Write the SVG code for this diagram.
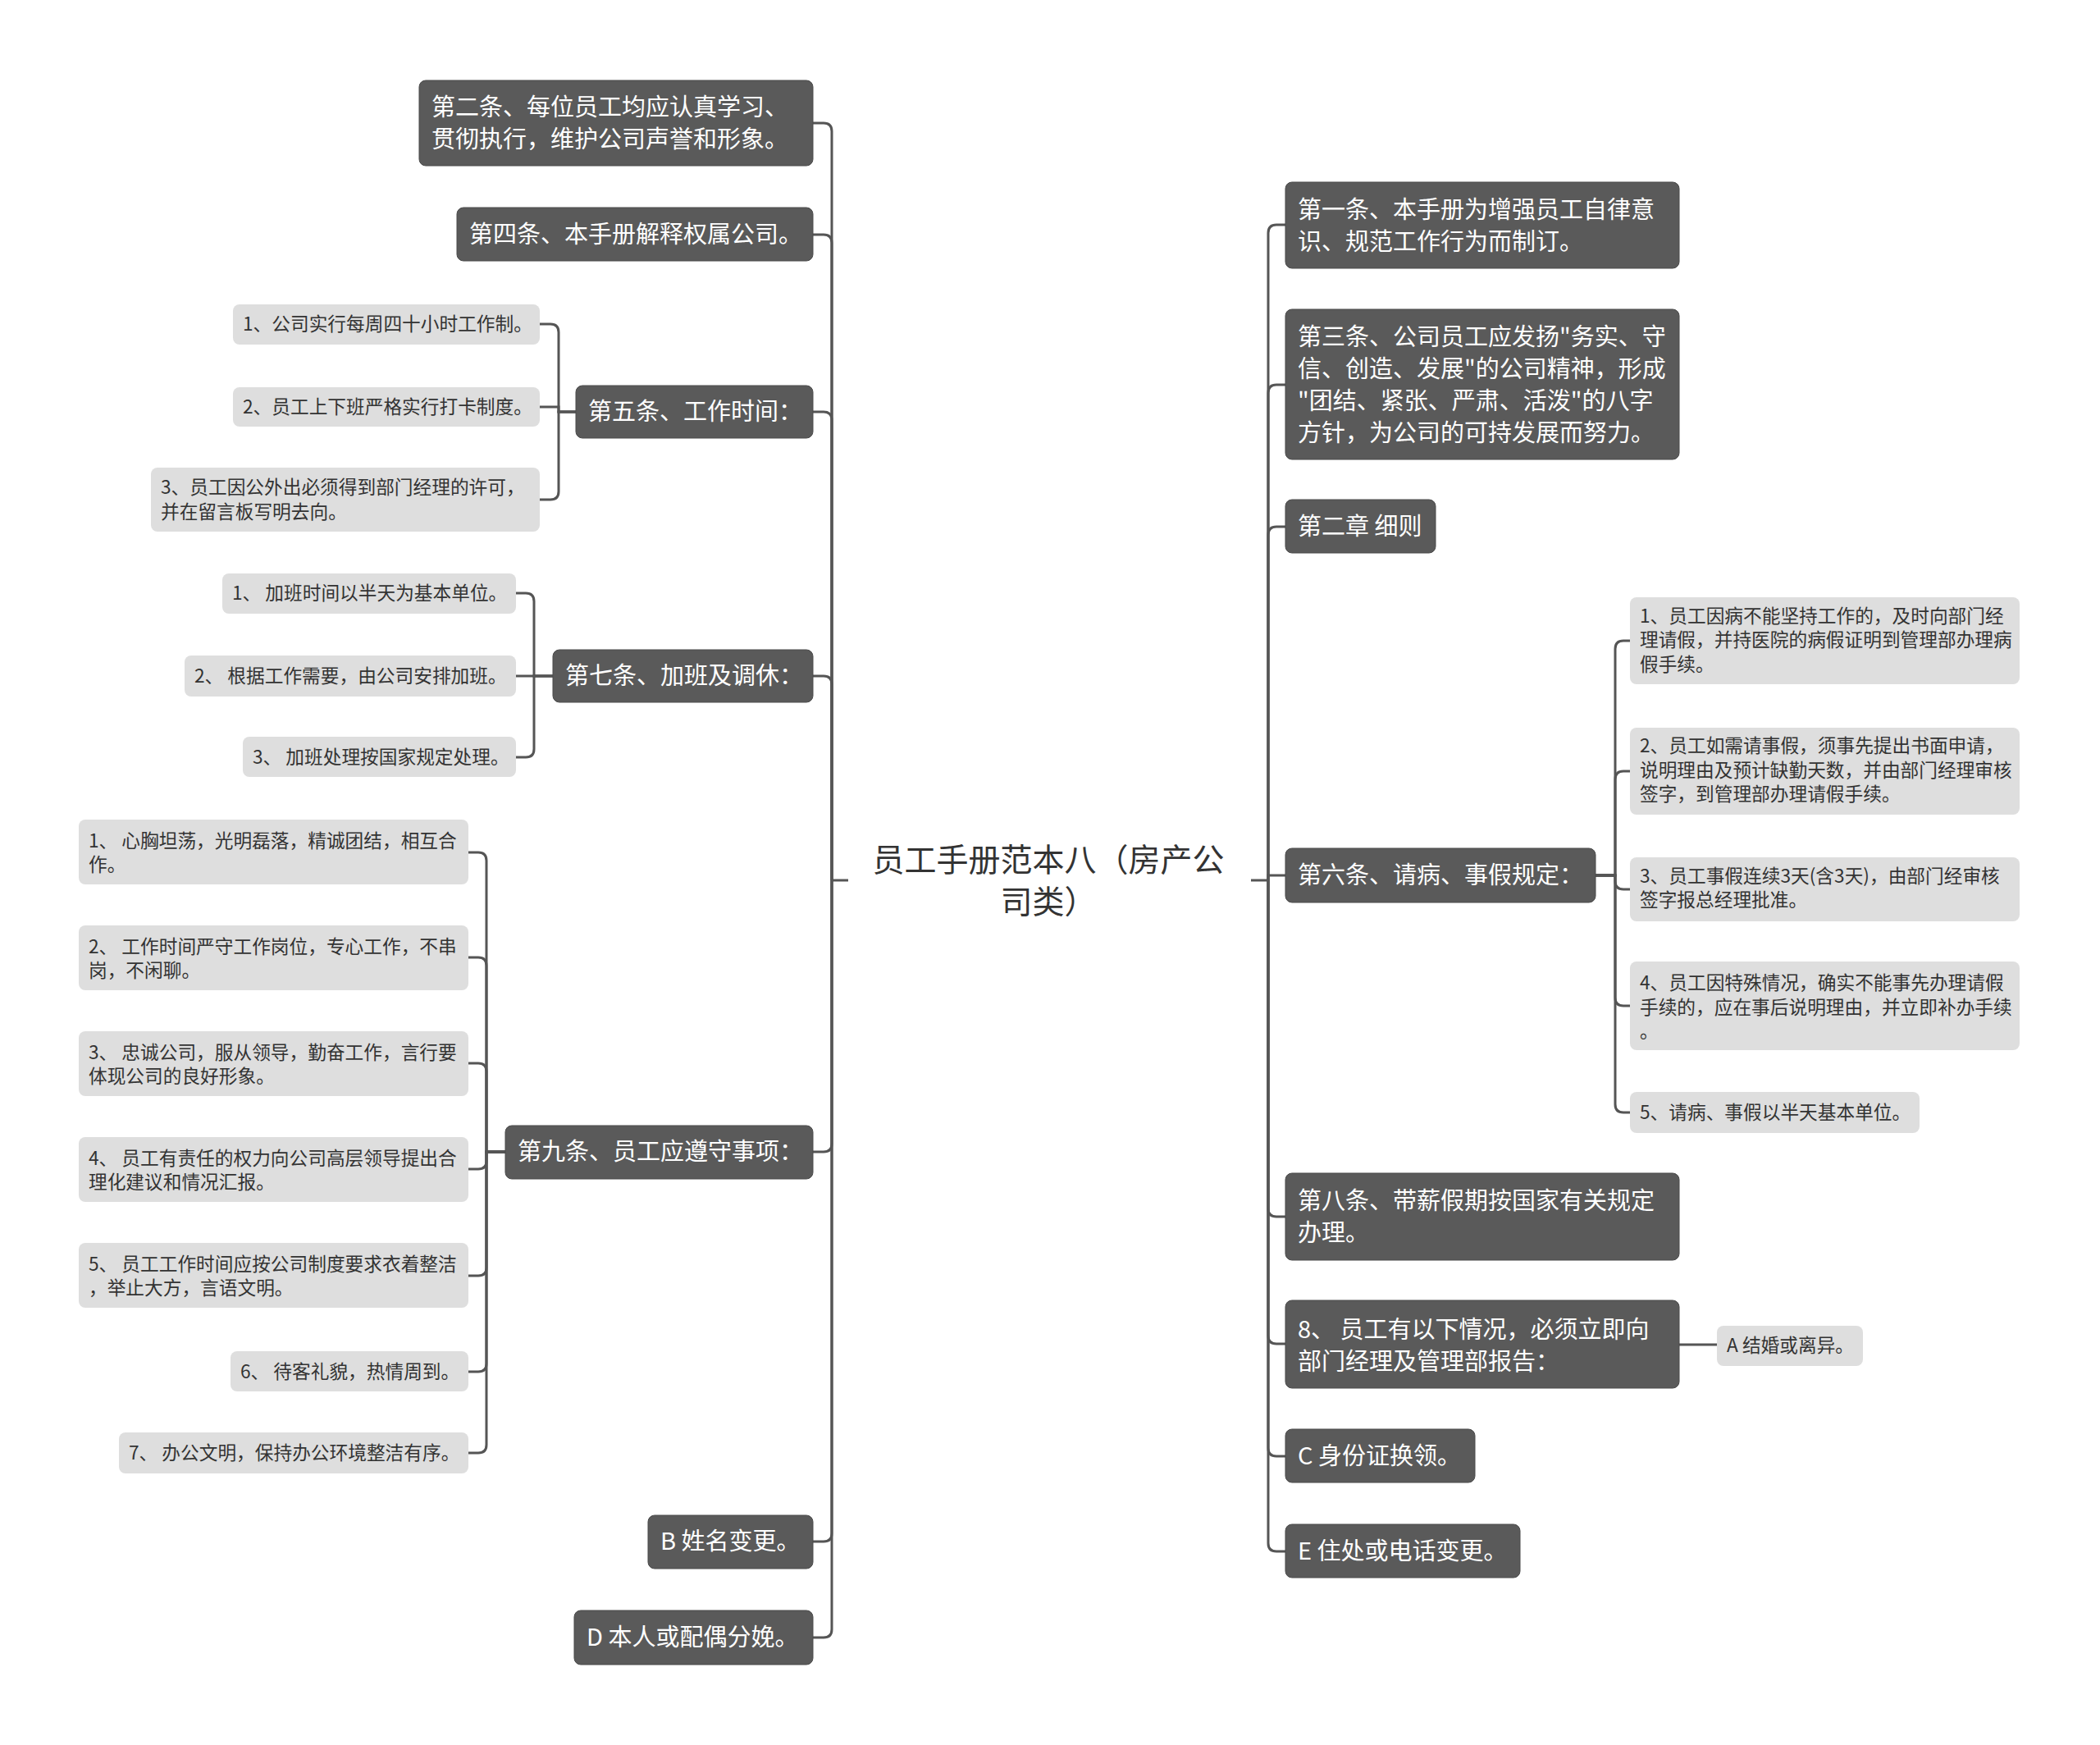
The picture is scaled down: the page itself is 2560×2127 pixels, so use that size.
<svg xmlns="http://www.w3.org/2000/svg" width="2560" height="2127" viewBox="0 0 2560 2127">
<style>
.dk{fill:#5a5a5a;stroke:#4a4a4a;stroke-width:1}
.lt{fill:#dedede}
.td{font-family:"Noto Sans CJK SC","Noto Sans",sans-serif;font-size:29px;fill:#ffffff}
.tl{font-family:"Noto Sans CJK SC","Noto Sans",sans-serif;font-size:22.7px;fill:#333333}
.tc{font-family:"Noto Sans CJK SC","Noto Sans",sans-serif;font-size:39px;fill:#333333;text-anchor:middle}
.ln{fill:none;stroke:#555555;stroke-width:3}
</style>
<rect width="2560" height="2127" fill="#ffffff"/>
<g id="connectors">
<path class="ln" d="M1034 1073 H1014"/>
<path class="ln" d="M1525 1073 H1546"/>
<path class="ln" d="M991 150 H1004 Q1014 150 1014 160 V1073"/>
<path class="ln" d="M991 286 H1004 Q1014 286 1014 296 V1073"/>
<path class="ln" d="M991 502 H1004 Q1014 502 1014 512 V1073"/>
<path class="ln" d="M991 824 H1004 Q1014 824 1014 834 V1073"/>
<path class="ln" d="M991 1404 H1004 Q1014 1404 1014 1394 V1073"/>
<path class="ln" d="M991 1879 H1004 Q1014 1879 1014 1869 V1073"/>
<path class="ln" d="M991 1996 H1004 Q1014 1996 1014 1986 V1073"/>
<path class="ln" d="M1567 274 H1556 Q1546 274 1546 284 V1073"/>
<path class="ln" d="M1567 469 H1556 Q1546 469 1546 479 V1073"/>
<path class="ln" d="M1567 642 H1556 Q1546 642 1546 652 V1073"/>
<path class="ln" d="M1567 1067 H1546 V1073"/>
<path class="ln" d="M1567 1483 H1556 Q1546 1483 1546 1473 V1073"/>
<path class="ln" d="M1567 1638 H1556 Q1546 1638 1546 1628 V1073"/>
<path class="ln" d="M1567 1775 H1556 Q1546 1775 1546 1765 V1073"/>
<path class="ln" d="M1567 1891 H1556 Q1546 1891 1546 1881 V1073"/>
<path class="ln" d="M702 502 H681 V405 Q681 395 671 395 H658"/>
<path class="ln" d="M702 502 H681 V496 H658"/>
<path class="ln" d="M702 502 H681 V599 Q681 609 671 609 H658"/>
<path class="ln" d="M674 824 H651 V733 Q651 723 641 723 H629"/>
<path class="ln" d="M674 824 H629"/>
<path class="ln" d="M674 824 H651 V913 Q651 923 641 923 H629"/>
<path class="ln" d="M616 1404 H593 V1049 Q593 1039 583 1039 H571"/>
<path class="ln" d="M616 1404 H593 V1177 Q593 1167 583 1167 H571"/>
<path class="ln" d="M616 1404 H593 V1306 Q593 1296 583 1296 H571"/>
<path class="ln" d="M616 1404 H593 V1415 Q593 1425 583 1425 H571"/>
<path class="ln" d="M616 1404 H593 V1545 Q593 1555 583 1555 H571"/>
<path class="ln" d="M616 1404 H593 V1662 Q593 1672 583 1672 H571"/>
<path class="ln" d="M616 1404 H593 V1761 Q593 1771 583 1771 H571"/>
<path class="ln" d="M1945 1067 H1969 V791 Q1969 781 1979 781 H1987"/>
<path class="ln" d="M1945 1067 H1969 V950 Q1969 940 1979 940 H1987"/>
<path class="ln" d="M1945 1067 H1969 V1074 Q1969 1084 1979 1084 H1987"/>
<path class="ln" d="M1945 1067 H1969 V1216 Q1969 1226 1979 1226 H1987"/>
<path class="ln" d="M1945 1067 H1969 V1346 Q1969 1356 1979 1356 H1987"/>
<path class="ln" d="M2047 1639 H2093"/>
</g>
<g id="root">
<text class="tc" x="1278" y="1062">员工手册范本八（房产公</text>
<text class="tc" x="1278" y="1113">司类）</text>
</g>
<g id="n-l1"><rect class="dk" x="511" y="98" width="480" height="104" rx="8"/>
<text class="td" x="526" y="141">第二条、每位员工均应认真学习、</text>
<text class="td" x="526" y="180">贯彻执行，维护公司声誉和形象。</text></g>
<g id="n-l2"><rect class="dk" x="557" y="253" width="434" height="65" rx="8"/>
<text class="td" x="572" y="296">第四条、本手册解释权属公司。</text></g>
<g id="n-l3"><rect class="dk" x="702" y="470" width="289" height="64" rx="8"/>
<text class="td" x="717" y="512">第五条、工作时间：</text></g>
<g id="n-l3a"><rect class="lt" x="284" y="371" width="374" height="49" rx="8"/>
<text class="tl" x="296" y="403">1、公司实行每周四十小时工作制。</text></g>
<g id="n-l3b"><rect class="lt" x="284" y="472" width="374" height="48" rx="8"/>
<text class="tl" x="296" y="504">2、员工上下班严格实行打卡制度。</text></g>
<g id="n-l3c"><rect class="lt" x="184" y="570" width="474" height="78" rx="8"/>
<text class="tl" x="196" y="602">3、员工因公外出必须得到部门经理的许可，</text>
<text class="tl" x="196" y="632">并在留言板写明去向。</text></g>
<g id="n-l4"><rect class="dk" x="674" y="792" width="317" height="64" rx="8"/>
<text class="td" x="689" y="834">第七条、加班及调休：</text></g>
<g id="n-l4a"><rect class="lt" x="271" y="699" width="358" height="49" rx="8"/>
<text class="tl" x="283" y="731">1、 加班时间以半天为基本单位。</text></g>
<g id="n-l4b"><rect class="lt" x="225" y="799" width="404" height="50" rx="8"/>
<text class="tl" x="237" y="832">2、 根据工作需要，由公司安排加班。</text></g>
<g id="n-l4c"><rect class="lt" x="296" y="898" width="333" height="49" rx="8"/>
<text class="tl" x="308" y="931">3、 加班处理按国家规定处理。</text></g>
<g id="n-l5"><rect class="dk" x="616" y="1372" width="375" height="65" rx="8"/>
<text class="td" x="631" y="1414">第九条、员工应遵守事项：</text></g>
<g id="n-l5a"><rect class="lt" x="96" y="999" width="475" height="79" rx="8"/>
<text class="tl" x="108" y="1033">1、 心胸坦荡，光明磊落，精诚团结，相互合</text>
<text class="tl" x="108" y="1062">作。</text></g>
<g id="n-l5b"><rect class="lt" x="96" y="1128" width="475" height="79" rx="8"/>
<text class="tl" x="108" y="1162">2、 工作时间严守工作岗位，专心工作，不串</text>
<text class="tl" x="108" y="1191">岗，不闲聊。</text></g>
<g id="n-l5c"><rect class="lt" x="96" y="1257" width="475" height="79" rx="8"/>
<text class="tl" x="108" y="1291">3、 忠诚公司，服从领导，勤奋工作，言行要</text>
<text class="tl" x="108" y="1320">体现公司的良好形象。</text></g>
<g id="n-l5d"><rect class="lt" x="96" y="1386" width="475" height="79" rx="8"/>
<text class="tl" x="108" y="1420">4、 员工有责任的权力向公司高层领导提出合</text>
<text class="tl" x="108" y="1449">理化建议和情况汇报。</text></g>
<g id="n-l5e"><rect class="lt" x="96" y="1515" width="475" height="79" rx="8"/>
<text class="tl" x="108" y="1549">5、 员工工作时间应按公司制度要求衣着整洁</text>
<text class="tl" x="108" y="1578">，举止大方，言语文明。</text></g>
<g id="n-l5f"><rect class="lt" x="281" y="1647" width="290" height="49" rx="8"/>
<text class="tl" x="293" y="1680">6、 待客礼貌，热情周到。</text></g>
<g id="n-l5g"><rect class="lt" x="145" y="1746" width="426" height="50" rx="8"/>
<text class="tl" x="157" y="1779">7、 办公文明，保持办公环境整洁有序。</text></g>
<g id="n-l6"><rect class="dk" x="790" y="1847" width="201" height="65" rx="8"/>
<text class="td" x="805" y="1889">B 姓名变更。</text></g>
<g id="n-l7"><rect class="dk" x="700" y="1963" width="291" height="66" rx="8"/>
<text class="td" x="715" y="2006">D 本人或配偶分娩。</text></g>
<g id="n-r1"><rect class="dk" x="1567" y="222" width="480" height="105" rx="8"/>
<text class="td" x="1582" y="266">第一条、本手册为增强员工自律意</text>
<text class="td" x="1582" y="305">识、规范工作行为而制订。</text></g>
<g id="n-r2"><rect class="dk" x="1567" y="377" width="480" height="183" rx="8"/>
<text class="td" x="1582" y="421">第三条、公司员工应发扬"务实、守</text>
<text class="td" x="1582" y="460">信、创造、发展"的公司精神，形成</text>
<text class="td" x="1582" y="499">"团结、紧张、严肃、活泼"的八字</text>
<text class="td" x="1582" y="538">方针，为公司的可持发展而努力。</text></g>
<g id="n-r3"><rect class="dk" x="1567" y="609" width="183" height="65" rx="8"/>
<text class="td" x="1582" y="652">第二章 细则</text></g>
<g id="n-r4"><rect class="dk" x="1567" y="1034" width="378" height="66" rx="8"/>
<text class="td" x="1582" y="1077">第六条、请病、事假规定：</text></g>
<g id="n-r4a"><rect class="lt" x="1987" y="728" width="475" height="106" rx="8"/>
<text class="tl" x="1999" y="759">1、员工因病不能坚持工作的，及时向部门经</text>
<text class="tl" x="1999" y="788">理请假，并持医院的病假证明到管理部办理病</text>
<text class="tl" x="1999" y="818">假手续。</text></g>
<g id="n-r4b"><rect class="lt" x="1987" y="887" width="475" height="106" rx="8"/>
<text class="tl" x="1999" y="917">2、员工如需请事假，须事先提出书面申请，</text>
<text class="tl" x="1999" y="947">说明理由及预计缺勤天数，并由部门经理审核</text>
<text class="tl" x="1999" y="976">签字，到管理部办理请假手续。</text></g>
<g id="n-r4c"><rect class="lt" x="1987" y="1045" width="475" height="78" rx="8"/>
<text class="tl" x="1999" y="1076">3、员工事假连续3天(含3天)，由部门经审核</text>
<text class="tl" x="1999" y="1105">签字报总经理批准。</text></g>
<g id="n-r4d"><rect class="lt" x="1987" y="1172" width="475" height="108" rx="8"/>
<text class="tl" x="1999" y="1206">4、员工因特殊情况，确实不能事先办理请假</text>
<text class="tl" x="1999" y="1236">手续的，应在事后说明理由，并立即补办手续</text>
<text class="tl" x="1999" y="1265">。</text></g>
<g id="n-r4e"><rect class="lt" x="1987" y="1331" width="353" height="50" rx="8"/>
<text class="tl" x="1999" y="1364">5、请病、事假以半天基本单位。</text></g>
<g id="n-r5"><rect class="dk" x="1567" y="1430" width="480" height="106" rx="8"/>
<text class="td" x="1582" y="1474">第八条、带薪假期按国家有关规定</text>
<text class="td" x="1582" y="1513">办理。</text></g>
<g id="n-r6"><rect class="dk" x="1567" y="1585" width="480" height="107" rx="8"/>
<text class="td" x="1582" y="1631">8、 员工有以下情况，必须立即向</text>
<text class="td" x="1582" y="1670">部门经理及管理部报告：</text></g>
<g id="n-r6a"><rect class="lt" x="2093" y="1616" width="178" height="49" rx="8"/>
<text class="tl" x="2105" y="1648">A 结婚或离异。</text></g>
<g id="n-r7"><rect class="dk" x="1567" y="1742" width="231" height="65" rx="8"/>
<text class="td" x="1582" y="1785">C 身份证换领。</text></g>
<g id="n-r8"><rect class="dk" x="1567" y="1858" width="286" height="65" rx="8"/>
<text class="td" x="1582" y="1901">E 住处或电话变更。</text></g>
</svg>
